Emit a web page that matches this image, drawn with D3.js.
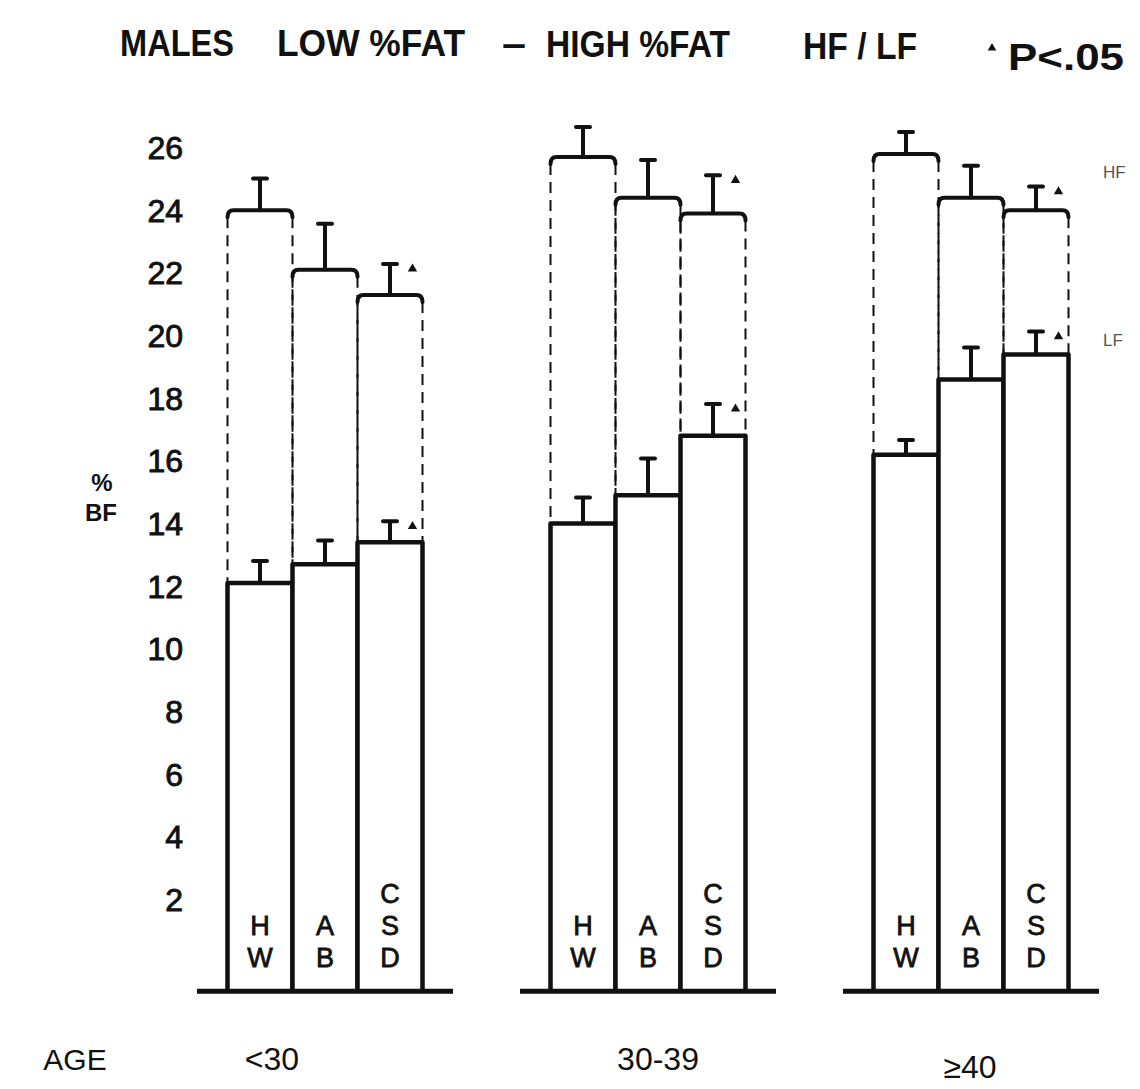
<!DOCTYPE html>
<html>
<head>
<meta charset="utf-8">
<script src="https://cdn.jsdelivr.net/npm/d3@7"></script>
<style>
  html, body { margin: 0; padding: 0; background: #fff; }
  svg { display: block; }
  text { font-family: "Liberation Sans", "DejaVu Sans", sans-serif; fill: #111; }
</style>
</head>
<body>
<div id="chart"></div>
<script>
// ---------- data ----------
const ages = ["<30", "30-39", "\u226540"];
const diets = ["HW", "AB", "CSD"];
const dietLetters = [["H", "W"], ["A", "B"], ["C", "S", "D"]];
const lowFatMean = [[12.1, 12.7, 13.4], [14.0, 14.9, 16.8], [16.2, 18.6, 19.4]];
const lowFatSE   = [[0.70, 0.76, 0.67], [0.83, 1.18, 1.02], [0.47, 1.02, 0.73]];
const highFatMean = [[24.0, 22.1, 21.3], [25.7, 24.4, 23.9], [25.8, 24.4, 24.0]];
const highFatSE   = [[1.02, 1.47, 0.99], [0.96, 1.21, 1.22], [0.70, 1.02, 0.76]];
const lowFatSig  = [[false, false, true], [false, false, true], [false, false, true]];
const highFatSig = [[false, false, true], [false, false, true], [false, false, true]];
const yTicks = [2, 4, 6, 8, 10, 12, 14, 16, 18, 20, 22, 24, 26];
const axisFloor = -0.9;   // the drawn baseline sits a little below the "2" tick spacing
const titleParts = ["MALES", "LOW %FAT", "\u2013", "HIGH %FAT", "HF / LF", "P<.05"];

// ---------- layout ----------
const W = 1140, H = 1089;
const svg = d3.select("#chart").append("svg").attr("width", W).attr("height", H);
svg.append("rect").attr("width", W).attr("height", H).attr("fill", "#fff");

const y = d3.scaleLinear().domain([0, 26]).range([962, 147.7]);
const xGroup = d3.scalePoint().domain(ages).range([325, 971]);
const xBar = d3.scaleBand().domain(diets).range([-97.5, 97.5]);
const bw = xBar.bandwidth();
const ink = "#111";

// title
const titleLayout = [
  { x: 120, w: 114, y: 56 },
  { x: 277, w: 188, y: 56 },
  { x: 502, w: 24, y: 56 },
  { x: 546, w: 184, y: 57 },
  { x: 803, w: 114, y: 59 },
  { x: 1008, w: 116, y: 70 }
];
titleParts.forEach((t, i) => {
  const L = titleLayout[i];
  svg.append("text").attr("x", L.x).attr("y", L.y)
    .attr("font-size", 37).attr("font-weight", "bold")
    .attr("textLength", L.w).attr("lengthAdjust", "spacingAndGlyphs")
    .text(t);
});
svg.append("path").attr("d", d3.symbol(d3.symbolTriangle, 32)())
  .attr("transform", "translate(992,48)").attr("fill", ink);

// y tick labels
svg.append("g").selectAll("text").data(yTicks).join("text")
  .attr("x", 183).attr("y", d => y(d)).attr("dy", "0.36em")
  .attr("text-anchor", "end").attr("font-size", 32)
  .attr("stroke", ink).attr("stroke-width", 0.9)
  .text(d => d);

// y axis title
svg.append("text").attr("x", 102).attr("y", 491).attr("text-anchor", "middle")
  .attr("font-size", 24).attr("font-weight", "bold").text("%");
svg.append("text").attr("x", 101).attr("y", 521).attr("text-anchor", "middle")
  .attr("font-size", 24).attr("font-weight", "bold").text("BF");

// groups
const y0 = y(axisFloor);
ages.forEach((age, gi) => {
  const cx = xGroup(age);
  const g = svg.append("g").attr("transform", `translate(${cx},0)`);

  diets.forEach((dk, bi) => {
    const x0 = xBar(dk), x1 = x0 + bw, xc = x0 + bw / 2;
    const yl = y(lowFatMean[gi][bi]);
    const yh = y(highFatMean[gi][bi]);

    // dashed sides of the high-fat bar
    [x0, x1].forEach(xx => {
      g.append("line").attr("x1", xx).attr("x2", xx)
        .attr("y1", yh + 7).attr("y2", yl)
        .attr("stroke", ink).attr("stroke-width", 2)
        .attr("stroke-dasharray", "11 7");
    });
    // high-fat top with rounded corners
    g.append("path")
      .attr("d", `M${x0},${yh + 7} Q${x0},${yh} ${x0 + 6},${yh} L${x1 - 6},${yh} Q${x1},${yh} ${x1},${yh + 7}`)
      .attr("fill", "none").attr("stroke", ink).attr("stroke-width", 4)
      .attr("stroke-linecap", "round");
    // high-fat error bar
    const yhe = y(highFatMean[gi][bi] + highFatSE[gi][bi]);
    g.append("line").attr("x1", xc).attr("x2", xc).attr("y1", yh).attr("y2", yhe)
      .attr("stroke", ink).attr("stroke-width", 4);
    g.append("line").attr("x1", xc - 7).attr("x2", xc + 7).attr("y1", yhe).attr("y2", yhe)
      .attr("stroke", ink).attr("stroke-width", 4).attr("stroke-linecap", "round");
    if (highFatSig[gi][bi]) {
      g.append("path").attr("d", d3.symbol(d3.symbolTriangle, 38)())
        .attr("transform", `translate(${x1 - 10},${yhe + 5})`).attr("fill", ink);
    }

    // low-fat solid bar
    g.append("path")
      .attr("d", `M${x0},${y0} L${x0},${yl} L${x1},${yl} L${x1},${y0}`)
      .attr("fill", "#fff").attr("stroke", ink).attr("stroke-width", 4.5)
      .attr("stroke-linejoin", "round");
    const yle = y(lowFatMean[gi][bi] + lowFatSE[gi][bi]);
    g.append("line").attr("x1", xc).attr("x2", xc).attr("y1", yl).attr("y2", yle)
      .attr("stroke", ink).attr("stroke-width", 4);
    g.append("line").attr("x1", xc - 7).attr("x2", xc + 7).attr("y1", yle).attr("y2", yle)
      .attr("stroke", ink).attr("stroke-width", 4).attr("stroke-linecap", "round");
    if (lowFatSig[gi][bi]) {
      g.append("path").attr("d", d3.symbol(d3.symbolTriangle, 38)())
        .attr("transform", `translate(${x1 - 10},${yle + 5})`).attr("fill", ink);
    }

    // stacked letters inside bar
    const letters = dietLetters[bi];
    letters.forEach((ch, li) => {
      g.append("text").attr("x", xc)
        .attr("y", y0 - 23 - (letters.length - 1 - li) * 32)
        .attr("text-anchor", "middle").attr("font-size", 27)
        .attr("stroke", ink).attr("stroke-width", 0.8)
        .text(ch);
    });
  });

  // baseline
  g.append("line").attr("x1", -128).attr("x2", 128)
    .attr("y1", y0 + 1).attr("y2", y0 + 1)
    .attr("stroke", ink).attr("stroke-width", 5);
});

// age labels
const ageLabelDx = [-53, 10, -1];
const ageLabelY = [1070, 1070, 1078];
ages.forEach((a, i) => {
  svg.append("text").attr("x", xGroup(a) + ageLabelDx[i]).attr("y", ageLabelY[i])
    .attr("text-anchor", "middle").attr("font-size", 32).text(a);
});
svg.append("text").attr("x", 75).attr("y", 1070).attr("text-anchor", "middle")
  .attr("font-size", 30).text("AGE");

// faint margin notes
svg.append("text").attr("x", 1103).attr("y", 178).attr("font-size", 17)
  .style("fill", "#555").text("HF");
svg.append("text").attr("x", 1103).attr("y", 346).attr("font-size", 17)
  .style("fill", "#555").text("LF");
</script>
</body>
</html>
